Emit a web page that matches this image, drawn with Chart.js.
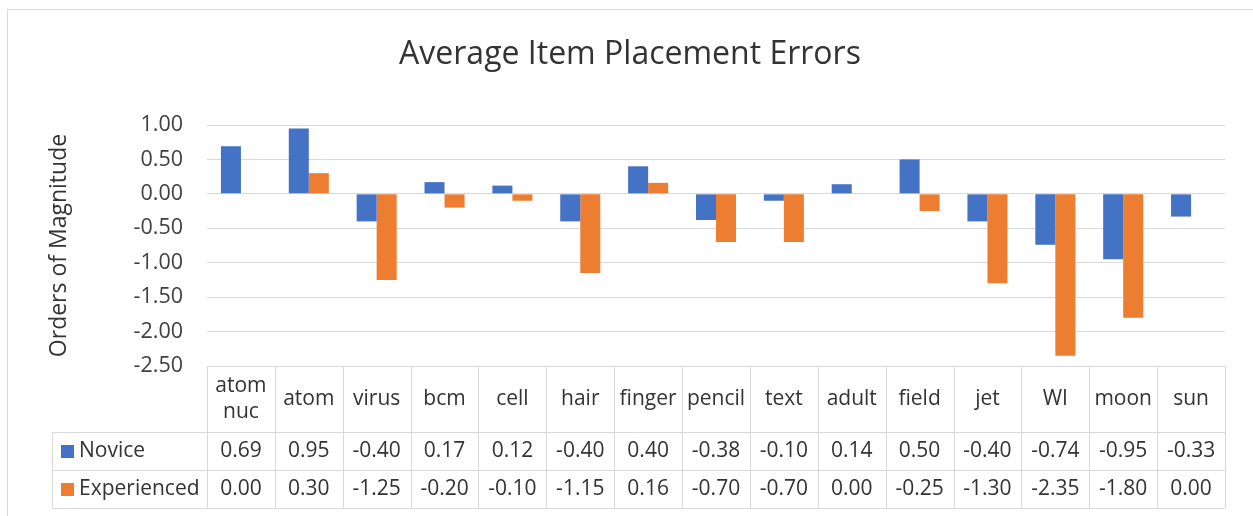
<!DOCTYPE html>
<html>
<head>
<meta charset="utf-8">
<script src="https://cdn.jsdelivr.net/npm/chart.js@4.4.1/dist/chart.umd.min.js"></script>
<style>
  html, body { margin: 0; padding: 0; background: #fff; }
</style>
</head>
<body>
<canvas id="errChart" width="1253" height="516"></canvas>
<script>
const categories = ["atom nuc", "atom", "virus", "bcm", "cell", "hair", "finger",
  "pencil", "text", "adult", "field", "jet", "WI", "moon", "sun"];
const novice = [0.69, 0.95, -0.40, 0.17, 0.12, -0.40, 0.40, -0.38, -0.10, 0.14, 0.50, -0.40, -0.74, -0.95, -0.33];
const experienced = [0.00, 0.30, -1.25, -0.20, -0.10, -1.15, 0.16, -0.70, -0.70, 0.00, -0.25, -1.30, -2.35, -1.80, 0.00];
const seriesNames = ["Novice", "Experienced"];
const chartTitle = "Average Item Placement Errors";

// y axis ticks
const yMin = -2.5;
const yMax = 1.0;
const yStep = 0.5;

const BLUE = "#4472C4";
const ORANGE = "#ED7D31";
const GRID = "#d9d9d9";
const TEXT = "#333333";
const FONT = "'Open Sans', 'Noto Sans', sans-serif";

// frame, title + data table under the plot (Excel style)
const dataTable = {
  id: "dataTable",
  afterDraw(chart) {
    const ctx = chart.ctx;
    const area = chart.chartArea;
    const colW = (area.right - area.left) / categories.length;
    const catTop = area.bottom;
    const rowTop = catTop + 66;
    const rowH = 38;
    const legendLeft = 52;

    ctx.save();
    // outer chart border (top + left visible)
    ctx.strokeStyle = GRID;
    ctx.lineWidth = 1;
    ctx.beginPath();
    ctx.moveTo(7.5, 530);
    ctx.lineTo(7.5, 9.5);
    ctx.lineTo(1260, 9.5);
    ctx.stroke();

    // title
    ctx.fillStyle = TEXT;
    ctx.font = "32px " + FONT;
    ctx.textAlign = "center";
    ctx.textBaseline = "middle";
    ctx.fillText(chartTitle, 630, 55);

    // table lines
    ctx.beginPath();
    ctx.moveTo(area.left, catTop + 0.5);
    ctx.lineTo(area.right, catTop + 0.5);
    for (let r = 0; r <= 2; r++) {
      const y = Math.round(rowTop + r * rowH) + 0.5;
      ctx.moveTo(legendLeft, y);
      ctx.lineTo(area.right, y);
    }
    ctx.moveTo(legendLeft + 0.5, rowTop);
    ctx.lineTo(legendLeft + 0.5, rowTop + 2 * rowH);
    for (let i = 0; i <= categories.length; i++) {
      const x = Math.round(area.left + i * colW) + 0.5;
      ctx.moveTo(x, catTop);
      ctx.lineTo(x, rowTop + 2 * rowH);
    }
    ctx.stroke();

    // category labels
    ctx.font = "21px " + FONT;
    categories.forEach((c, i) => {
      const cx = area.left + (i + 0.5) * colW;
      const cy = (catTop + rowTop) / 2;
      if (ctx.measureText(c).width > colW - 6 && c.includes(" ")) {
        const parts = c.split(" ");
        ctx.fillText(parts[0], cx, cy - 13);
        ctx.fillText(parts.slice(1).join(" "), cx, cy + 13);
      } else {
        ctx.fillText(c, cx, cy);
      }
    });

    // series rows
    const rows = [novice, experienced];
    const colors = [BLUE, ORANGE];
    rows.forEach((vals, r) => {
      const cy = rowTop + r * rowH + rowH / 2;
      ctx.fillStyle = colors[r];
      ctx.fillRect(legendLeft + 9, cy - 6, 13, 13);
      ctx.fillStyle = TEXT;
      ctx.textAlign = "left";
      ctx.fillText(seriesNames[r], legendLeft + 27, cy);
      ctx.textAlign = "center";
      vals.forEach((v, i) => {
        ctx.fillText(v.toFixed(2), area.left + (i + 0.5) * colW, cy);
      });
    });
    ctx.restore();
  }
};

new Chart(document.getElementById("errChart"), {
  type: "bar",
  data: {
    labels: categories,
    datasets: [
      { label: seriesNames[0], data: novice, backgroundColor: BLUE },
      { label: seriesNames[1], data: experienced, backgroundColor: ORANGE }
    ]
  },
  options: {
    responsive: false,
    animation: false,
    datasets: {
      bar: { barPercentage: 1.0, categoryPercentage: 0.59 }
    },
    layout: { padding: { top: 125, right: 28, bottom: 150, left: 0 } },
    plugins: {
      legend: { display: false },
      tooltip: { enabled: false },
      title: { display: false }
    },
    scales: {
      x: { display: false },
      y: {
        min: yMin,
        max: yMax,
        afterFit(scale) { scale.width = 207; },
        ticks: {
          stepSize: yStep,
          color: "#404040",
          font: { family: FONT, size: 21.5 },
          padding: 24,
          callback: v => v.toFixed(2)
        },
        grid: { color: GRID, drawTicks: false },
        border: { display: false },
        title: {
          display: true,
          text: "Orders of Magnitude",
          color: TEXT,
          font: { family: FONT, size: 23 },
          padding: { top: 46, bottom: 0 }
        }
      }
    }
  },
  plugins: [dataTable]
});
</script>
</body>
</html>
